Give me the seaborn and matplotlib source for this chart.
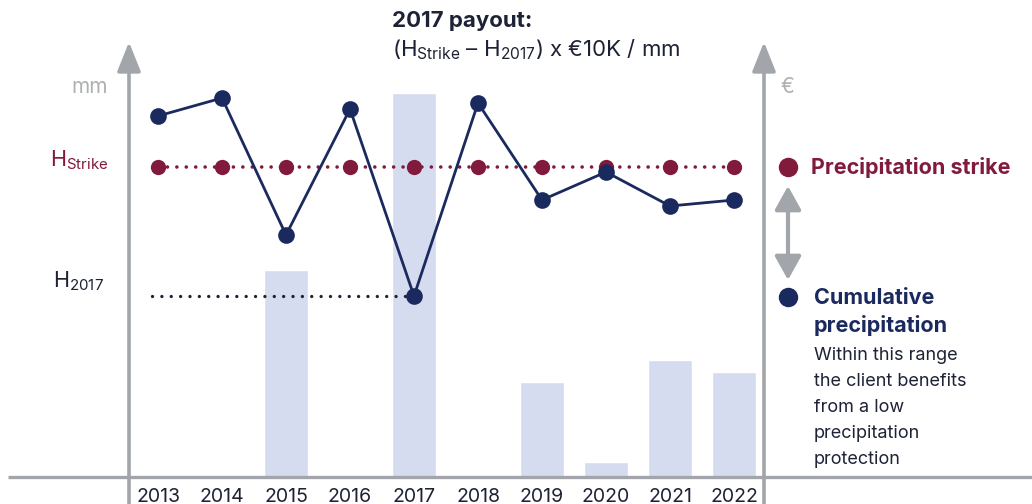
import matplotlib
matplotlib.use('Agg')
import matplotlib.pyplot as plt
import seaborn as sns
import numpy as np

# data (arbitrary mm / € units)
years = ['2013', '2014', '2015', '2016', '2017', '2018', '2019', '2020', '2021', '2022']
precip = [361, 379, 242, 368, 181, 374, 277, 305, 271, 277]
strike = [310] * 10
payout = [0, 0, 207, 0, 384, 0, 95, 15, 117, 105]
h2017_year = 4

navy = '#1B2A5E'
maroon = '#821A3C'
bar_c = '#D6DCF0'
axis_c = '#A2A6AA'
text_c = '#1E2235'

sns.set_theme(style='white')
plt.rcParams['font.family'] = ['Inter', 'DejaVu Sans']
plt.rcParams['mathtext.fontset'] = 'custom'
plt.rcParams['mathtext.rm'] = 'Inter'
plt.rcParams['mathtext.it'] = 'Inter'
plt.rcParams['mathtext.bf'] = 'Inter:bold'

W, H = 1032, 504
fig = plt.figure(figsize=(W / 100, H / 100), dpi=100)

# main axes: x from left axis line (129px) to right axis line (764px), y from baseline (477px) up
ax = fig.add_axes([129 / W, 27 / H, 635 / W, 437 / H])
x = np.arange(len(years))
sns.barplot(x=years, y=payout, color=bar_c, width=0.69, saturation=1, ax=ax, zorder=1)
sns.lineplot(x=x, y=strike, color=maroon, lw=2.6, linestyle=(0, (0.01, 2.6)),
             dash_capstyle='round', marker='o', markersize=11, markeredgewidth=0,
             ax=ax, zorder=3)
sns.lineplot(x=[-0.1, h2017_year], y=[precip[h2017_year]] * 2, color=text_c, lw=2.4,
             linestyle=(0, (0.01, 2.8)), dash_capstyle='round', ax=ax, zorder=2)
sns.lineplot(x=x, y=precip, color=navy, lw=2.0, marker='o', markersize=12,
             markeredgewidth=0, ax=ax, zorder=4)

ax.set_xlim((129 - 158) / 64, (764 - 158) / 64)
ax.set_ylim(0, 437)
ax.set_yticks([])
ax.set_xticks(x)
ax.set_xticklabels(years, fontsize=14, color=text_c)
ax.tick_params(axis='x', length=0, pad=8)
ax.set_xlabel('')
ax.set_ylabel('')
for s in ax.spines.values():
    s.set_visible(False)
ax.patch.set_alpha(0)

# overlay in pixel coordinates for axis arrows and annotations
ov = fig.add_axes([0, 0, 1, 1], zorder=5)
ov.set_xlim(0, W)
ov.set_ylim(H, 0)
ov.axis('off')
ov.patch.set_alpha(0)

ov.plot([8, W], [477, 477], color=axis_c, lw=2.4, solid_capstyle='butt')
for xa in (129, 764):
    ov.annotate('', xy=(xa, 42), xytext=(xa, H + 2),
                arrowprops=dict(arrowstyle='-|>,head_length=1.0,head_width=0.4',
                                color=axis_c, lw=2.6, shrinkA=0, shrinkB=0,
                                mutation_scale=18))

ov.text(108, 87, 'mm', ha='right', va='center', fontsize=15, color='#AEB1B4')
ov.text(780, 87, '€', ha='left', va='center', fontsize=15, color='#AEB1B4')
ov.text(108, 160, r'H$_{\mathrm{Strike}}$', ha='right', va='center', fontsize=15.5, color=maroon)
ov.text(104, 281, r'H$_{\mathrm{2017}}$', ha='right', va='center', fontsize=15.5, color=text_c)

ov.text(392, 21, '2017 payout:', ha='left', va='center', fontsize=16,
        fontweight='bold', color=text_c)
ov.text(392, 50, r'(H$_{\mathrm{Strike}}$ – H$_{\mathrm{2017}}$) x €10K / mm', ha='left',
        va='center', fontsize=16, color=text_c)

# right-hand key
ov.plot([788], [167], 'o', color=maroon, markersize=14, markeredgewidth=0)
ov.text(811, 167, 'Precipitation strike', ha='left', va='center', fontsize=15.5,
        fontweight='bold', color=maroon)
ov.annotate('', xy=(788, 186), xytext=(788, 280),
            arrowprops=dict(arrowstyle='<|-|>,head_length=0.9,head_width=0.5',
                            color=axis_c, lw=3, shrinkA=0, shrinkB=0, mutation_scale=16))
ov.plot([788], [297], 'o', color=navy, markersize=14, markeredgewidth=0)
ov.text(814, 298, 'Cumulative', ha='left', va='center', fontsize=15.5,
        fontweight='bold', color=navy)
ov.text(814, 326, 'precipitation', ha='left', va='center', fontsize=15.5,
        fontweight='bold', color=navy)
desc = ['Within this range', 'the client benefits', 'from a low', 'precipitation', 'protection']
for i, line in enumerate(desc):
    ov.text(814, 355 + i * 26.2, line, ha='left', va='center', fontsize=13, color=text_c)

fig.savefig('out.png', dpi=100)
